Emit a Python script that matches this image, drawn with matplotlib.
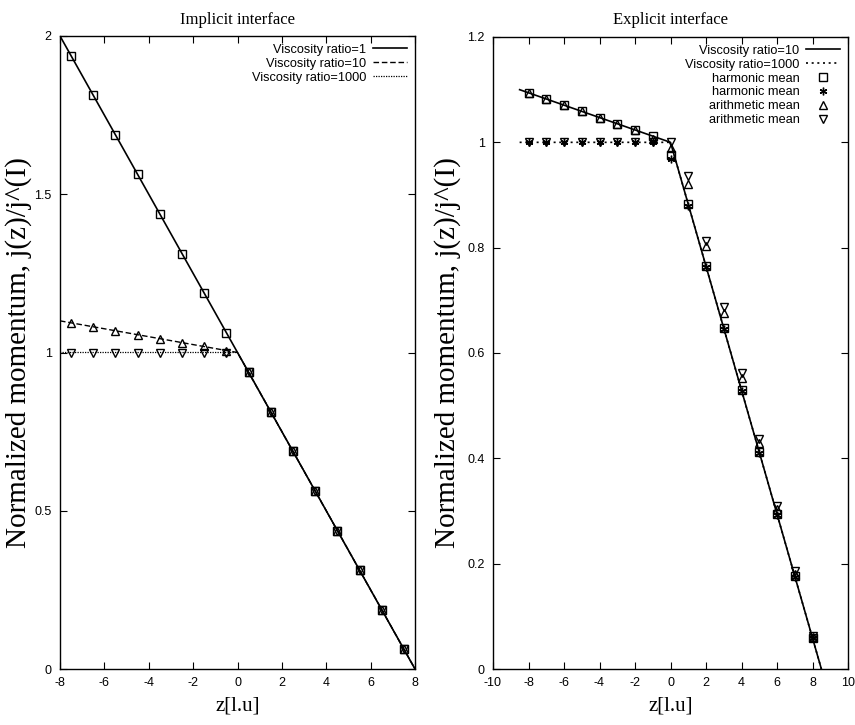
import matplotlib
matplotlib.use("Agg")
import matplotlib.pyplot as plt

plt.rcParams["axes.unicode_minus"] = False

# ---------------- Left panel: implicit interface ----------------
left_line_z = [-8, 0, 8]
left_ratio1_line = [2.0, 1.0, 0.0]
left_ratio10_line = [1.1, 1.0, 0.0]
left_ratio1000_line = [1.0, 1.0, 0.0]

left_z = [-7.5, -6.5, -5.5, -4.5, -3.5, -2.5, -1.5, -0.5,
          0.5, 1.5, 2.5, 3.5, 4.5, 5.5, 6.5, 7.5]
left_ratio1 = [1.9375, 1.8125, 1.6875, 1.5625, 1.4375, 1.3125, 1.1875, 1.0625,
               0.9375, 0.8125, 0.6875, 0.5625, 0.4375, 0.3125, 0.1875, 0.0625]
left_ratio10 = [1.094, 1.081, 1.069, 1.056, 1.044, 1.031, 1.019, 1.006,
                0.9375, 0.8125, 0.6875, 0.5625, 0.4375, 0.3125, 0.1875, 0.0625]
left_ratio1000 = [1.0, 1.0, 1.0, 1.0, 1.0, 1.0, 1.0, 1.0,
                  0.9375, 0.8125, 0.6875, 0.5625, 0.4375, 0.3125, 0.1875, 0.0625]
left_labels = ["Viscosity ratio=1", "Viscosity ratio=10", "Viscosity ratio=1000"]

# ---------------- Right panel: explicit interface ----------------
right_line_z = [-8.5, 0, 8.5]
right_ratio10_line = [1.1, 1.0, 0.0]
right_ratio1000_line = [1.0, 1.0, 0.0]

right_z = [-8, -7, -6, -5, -4, -3, -2, -1, 0, 1, 2, 3, 4, 5, 6, 7, 8]
harm_ratio10 = [1.094, 1.082, 1.071, 1.059, 1.047, 1.035, 1.024, 1.012,
                0.976, 0.882, 0.765, 0.647, 0.529, 0.412, 0.294, 0.176, 0.059]
harm_ratio1000 = [1.0, 1.0, 1.0, 1.0, 1.0, 1.0, 1.0, 1.0,
                  0.968, 0.880, 0.763, 0.645, 0.528, 0.410, 0.292, 0.175, 0.058]
arith_ratio10 = [1.094, 1.082, 1.071, 1.059, 1.047, 1.035, 1.024, 1.006,
                 0.990, 0.920, 0.803, 0.675, 0.552, 0.430, 0.303, 0.180, 0.060]
arith_ratio1000 = [1.0, 1.0, 1.0, 1.0, 1.0, 1.0, 1.0, 1.0,
                   1.000, 0.937, 0.812, 0.688, 0.562, 0.437, 0.310, 0.186, 0.062]
right_line_labels = ["Viscosity ratio=10", "Viscosity ratio=1000"]
right_marker_labels = ["harmonic mean", "harmonic mean", "arithmetic mean", "arithmetic mean"]

SANS = "Liberation Sans"
SERIF = "Liberation Serif"

fig = plt.figure(figsize=(8.55, 7.25), dpi=100)
axL = fig.add_axes([60 / 855, 1 - 669 / 725, 355 / 855, 633 / 725])
axR = fig.add_axes([493 / 855, 1 - 669 / 725, 355 / 855, 632 / 725])

mk = dict(color="black", markerfacecolor="none", markeredgecolor="black",
          markeredgewidth=1.0, linestyle="none", markersize=5.5)

leg_kw = dict(loc="upper right", frameon=False, markerfirst=False,
              prop={"family": SANS, "size": 9.2}, handlelength=2.7,
              handletextpad=0.5, labelspacing=0.15, borderaxespad=0.25,
              borderpad=0.35)

# Left
l1, = axL.plot(left_line_z, left_ratio1_line, color="black", lw=1.2)
l2, = axL.plot(left_line_z, left_ratio10_line, color="black", lw=1.0, dashes=(4, 2))
l3, = axL.plot(left_line_z, left_ratio1000_line, color="black", lw=0.9, dashes=(1, 1))
axL.plot(left_z, left_ratio1, marker="s", **mk)
axL.plot(left_z, left_ratio10, marker="^", **mk)
axL.plot(left_z, left_ratio1000, marker="v", **mk)
axL.set_xlim(-8, 8)
axL.set_ylim(0, 2)
axL.set_xticks(range(-8, 9, 2))
axL.set_yticks([0, 0.5, 1, 1.5, 2])
axL.set_yticklabels(["0", "0.5", "1", "1.5", "2"])
axL.set_title("Implicit interface", fontfamily=SERIF, fontsize=12, pad=9)
axL.legend([l1, l2, l3], left_labels, **leg_kw)

# Right
r1, = axR.plot(right_line_z, right_ratio10_line, color="black", lw=1.2)
r2, = axR.plot(right_line_z, right_ratio1000_line, color="black", lw=1.2, dashes=(1.2, 2.2))
m1, = axR.plot(right_z, harm_ratio10, marker="s", **mk)
m2, = axR.plot(right_z, harm_ratio1000, marker=(6, 2, 0), **mk)
m3, = axR.plot(right_z, arith_ratio10, marker="^", **mk)
m4, = axR.plot(right_z, arith_ratio1000, marker="v", **mk)
axR.set_xlim(-10, 10)
axR.set_ylim(0, 1.2)
axR.set_xticks(range(-10, 11, 2))
axR.set_yticks([0, 0.2, 0.4, 0.6, 0.8, 1.0, 1.2])
axR.set_yticklabels(["0", "0.2", "0.4", "0.6", "0.8", "1", "1.2"])
axR.set_title("Explicit interface", fontfamily=SERIF, fontsize=12, pad=9)
axR.legend([r1, r2, m1, m2, m3, m4], right_line_labels + right_marker_labels, **leg_kw)

for ax in (axL, axR):
    ax.tick_params(direction="in", top=True, right=True, length=5, width=0.8,
                   labelsize=9, pad=6)
    for lab in ax.get_xticklabels() + ax.get_yticklabels():
        lab.set_fontfamily(SANS)
    for s in ax.spines.values():
        s.set_linewidth(1.0)
    ax.set_xlabel("z[l.u]", fontfamily=SERIF, fontsize=15, labelpad=5)
    ax.set_ylabel("Normalized momentum, j(z)/j^(I)", fontfamily=SERIF, fontsize=21,
                  va="center")

axL.yaxis.set_label_coords((19 - 60) / 355, 0.5)
axR.yaxis.set_label_coords((448 - 493) / 355, 0.5)

fig.savefig("out.png", dpi=100)
